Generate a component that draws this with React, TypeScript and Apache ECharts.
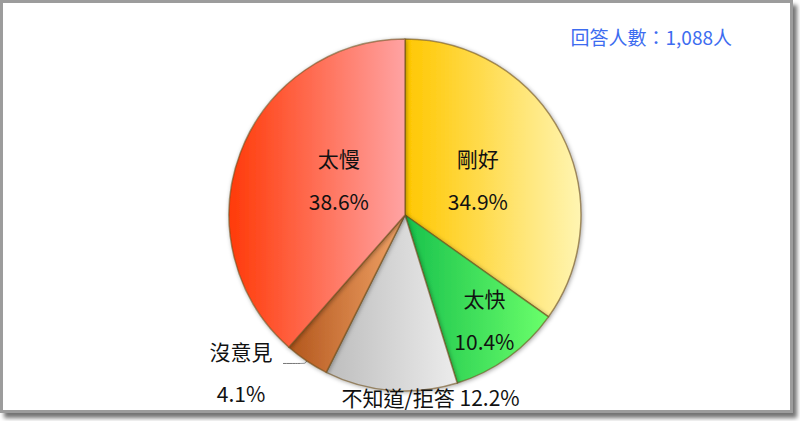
import React, { useEffect, useRef } from 'react';
import * as echarts from 'echarts';

// survey answers, clockwise from 12 o'clock
const categories = ['剛好', '太快', '不知道/拒答', '沒意見', '太慢'];
const shares = [34.9, 10.4, 12.2, 4.1, 38.6];
const respondentCount = '1,088';

// left -> right gradient stops per slice
const sliceColors = [
  ['#FFC700', '#FFF5B2'],
  ['#19C24C', '#6BFF6B'],
  ['#BDBDBD', '#ECECEC'],
  ['#B2561C', '#F2A468'],
  ['#FF3A08', '#FFA3A3'],
];

// nudges applied to the default label spots
const labelNudge = [
  [-8, 6],
  [26, 31],
  [33, 91],
  [0, 0],
  [19, -3],
];

const FONT = "'Noto Sans CJK TC', 'Noto Sans', sans-serif";

const App: React.FC = () => {
  const chartRef = useRef<HTMLDivElement>(null);

  useEffect(() => {
    if (!chartRef.current) return;
    const chart = echarts.init(chartRef.current, undefined, { renderer: 'svg' });

    const data = categories.map((name, i) => {
      const [c0, c1] = sliceColors[i];
      let label: any = {
        position: 'inside',
        formatter: '{b}\n{c}%',
        lineHeight: 43,
      };
      if (name === '不知道/拒答') {
        label = { position: 'inside', formatter: '{b} {c}%' };
      } else if (name === '沒意見') {
        label = {
          position: 'outside',
          formatter: '{n|{b}}\n{p|{c}%}',
          rich: {
            n: { fontSize: 21, lineHeight: 60, width: 74, align: 'center', color: '#111', fontFamily: FONT },
            p: { fontSize: 21, lineHeight: 24, width: 74, align: 'center', color: '#111', fontFamily: FONT },
          },
        };
      }
      return {
        name,
        value: shares[i],
        itemStyle: {
          color: new echarts.graphic.LinearGradient(0, 0, 1, 0, [
            { offset: 0, color: c0 },
            { offset: 1, color: c1 },
          ]),
        },
        label,
        labelLine: name === '沒意見'
          ? { show: true, length: 3, length2: 22, smooth: 0.3, lineStyle: { color: '#777', width: 1 } }
          : { show: false },
      };
    });

    const option: echarts.EChartsOption = {
      animation: false,
      backgroundColor: '#fff',
      textStyle: { fontFamily: FONT },
      title: {
        text: `回答人數：${respondentCount}人`,
        right: 63,
        top: 22,
        textStyle: { color: '#3D6CF0', fontSize: 19, fontWeight: 'normal', fontFamily: FONT },
      },
      graphic: [
        {
          type: 'rect',
          z: -10,
          shape: { x: 1.5, y: 1.5, width: 790, height: 410 },
          style: {
            fill: '#fff',
            stroke: '#9c9c9c',
            lineWidth: 3,
            shadowBlur: 4,
            shadowOffsetX: 4,
            shadowOffsetY: 5,
            shadowColor: 'rgba(0,0,0,0.55)',
          },
        },
      ],
      series: [
        {
          type: 'pie',
          center: [405, 215],
          radius: 176,
          startAngle: 90,
          clockwise: true,
          avoidLabelOverlap: false,
          itemStyle: {
            borderColor: 'rgba(110,80,30,0.6)',
            borderWidth: 1.5,
            shadowBlur: 4,
            shadowOffsetX: 1,
            shadowOffsetY: 1,
            shadowColor: 'rgba(0,0,0,0.35)',
          },
          label: { color: '#111', fontSize: 21, fontFamily: FONT },
          labelLayout: (params: any) => {
            const [dx, dy] = labelNudge[params.dataIndex];
            if (!dx && !dy) return {};
            return { dx, dy };
          },
          emphasis: { disabled: true },
          data,
        },
      ],
    };

    chart.setOption(option);
    return () => chart.dispose();
  }, []);

  return (
    <div
      ref={chartRef}
      style={{ position: 'absolute', left: 0, top: 0, width: '800px', height: '421px' }}
    />
  );
};

export default App;
